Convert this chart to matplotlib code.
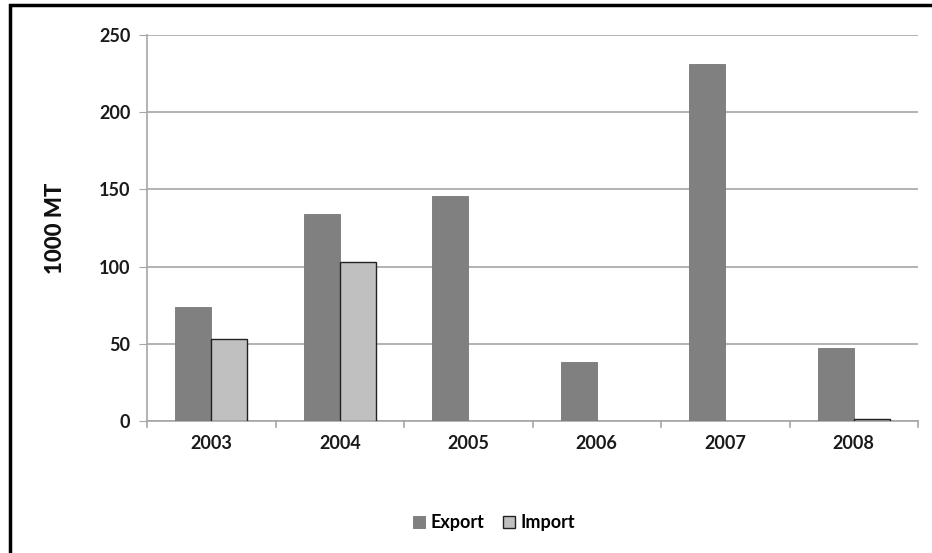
import numpy as np
import matplotlib
matplotlib.use("Agg")
import matplotlib.pyplot as plt
from matplotlib.patches import Rectangle

# Export / import volumes per year (1000 MT)
years = ["2003", "2004", "2005", "2006", "2007", "2008"]
export = [74, 134, 146, 38, 231, 47]
imports = [53, 103, 0, 0, 0, 1.5]

plt.rcParams['font.family'] = ['Lato', 'DejaVu Sans']

fig = plt.figure(figsize=(9.32, 5.53), dpi=100)
ax = fig.add_axes([147 / 932, 1 - 421 / 553, 771 / 932, 386 / 553])

x = np.arange(len(years))
w = 0.28
ax.bar(x - w / 2, export, w, color="#808080", edgecolor="#777777", linewidth=0.6,
       label="Export", zorder=3)
ib = ax.bar(x + w / 2, imports, w, color="#c0c0c0", edgecolor="#222222", linewidth=1.0,
            label="Import", zorder=3)
# years with no imports get no outline either
for p, v in zip(ib.patches, imports):
    if v == 0:
        p.set_visible(False)

ax.set_xlim(-0.5, len(years) - 0.5)
ax.set_ylim(0, 250)
ax.set_yticks(range(0, 251, 50))
ax.yaxis.grid(True, color="#a6a6a6", linewidth=1.2, zorder=0)

ax.set_xticks(x)
ax.set_xticklabels(years, fontsize=13, fontweight=700, color="#1a1a1a")
ax.tick_params(axis="x", length=0, pad=10)
ax.tick_params(axis="y", length=6, color="#a6a6a6", pad=6)
ax.set_yticklabels([str(v) for v in range(0, 251, 50)], fontsize=13,
                   fontweight=700, color="#1a1a1a")

# category separator ticks below the axis
for b in np.arange(-0.5, len(years), 1.0):
    ax.plot([b, b], [0, -4], color="#a6a6a6", linewidth=1.2, clip_on=False, zorder=2)

for side in ["top", "right"]:
    ax.spines[side].set_visible(False)
ax.spines["left"].set_color("#a6a6a6")
ax.spines["left"].set_linewidth(1.2)
ax.spines["bottom"].set_color("#a6a6a6")
ax.spines["bottom"].set_linewidth(1.2)

ax.set_ylabel("1000 MT", fontsize=16, fontweight=900, color="#111111", labelpad=24)

ax.legend(loc="upper center", bbox_to_anchor=(0.45, -0.2), ncol=2, frameon=False,
          handlelength=0.7, handleheight=0.7, handletextpad=0.3,
          columnspacing=1.0, prop={"weight": "bold", "size": 13})

# outer frame
fig.patches.append(Rectangle((10 / 932, -0.05), 1.1, 1 - 5 / 553 + 0.05,
                             transform=fig.transFigure, fill=False,
                             edgecolor="black", linewidth=2.5))

fig.savefig("out.png", dpi=100)
